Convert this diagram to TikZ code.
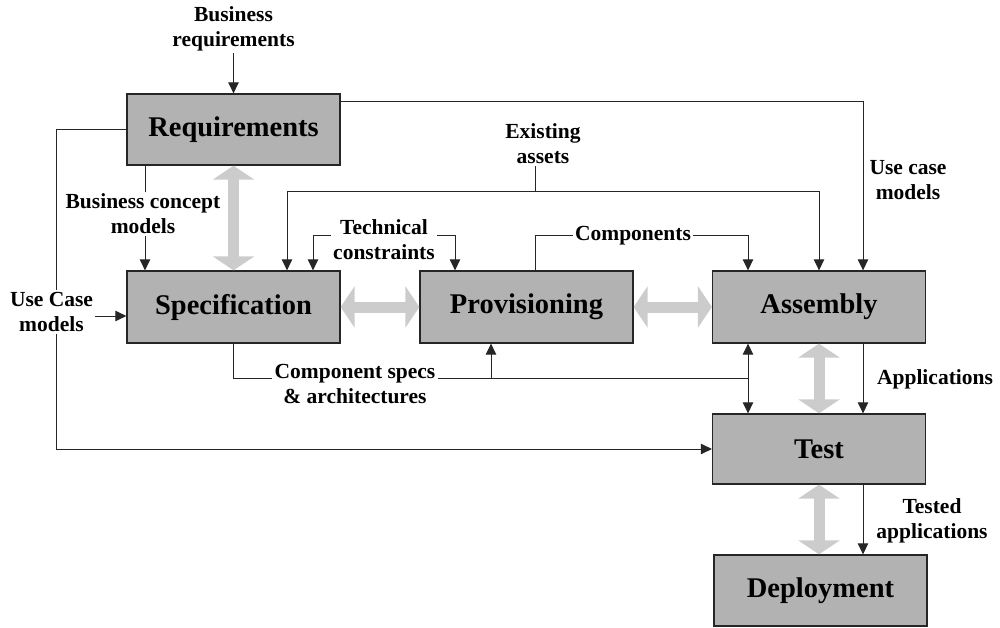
\documentclass[tikz,border=0pt]{standalone}
\usepackage{fontspec}
\setmainfont{Liberation Serif}
\usetikzlibrary{arrows.meta}
\begin{document}
\begin{tikzpicture}[x=1pt,y=-1pt,
 box/.style={draw=black!85,line width=1.3pt,fill=black!30,minimum width=213pt,minimum height=71pt,inner sep=0pt,font=\bfseries\fontsize{28.5}{33}\selectfont},
 lbl/.style={font=\bfseries\fontsize{21.5}{25}\selectfont,align=center,inner sep=2pt},
 line/.style={draw=black!85,line width=1pt},
 conn/.style={line,-{Triangle[length=11pt,width=10.5pt]}},
 gray arrow/.style={draw=black!20,line width=11pt,{Triangle[width=41pt,length=14pt]}-{Triangle[width=41pt,length=14pt]}}]
\useasboundingbox (0,0) rectangle (1000,628);
% boxes
\node[box] (req) at (233.5,129.5) {Requirements};
\node[box,minimum height=72pt] (spec) at (233.5,307) {Specification};
\node[box,minimum height=72pt] (prov) at (526.5,307) {Provisioning};
\node[box,minimum height=72pt] (asm) at (819,307) {Assembly};
\node[box,minimum height=70pt] (test) at (819,449) {Test};
\node[box] (dep) at (820.5,590.5) {Deployment};
% labels
\node[lbl] (breq) at (233.5,29) {Business\\requirements};
\node[lbl] (ucase) at (908,180) {Use case\\models};
\node[lbl] (ucm) at (51.5,312) {Use Case\\models};
\node[lbl] (bcm) at (143,214) {Business concept\\models};
\node[lbl] (ea) at (543,144) {Existing\\assets};
\node[lbl] (tc) at (384,240) {Technical\\constraints};
\node[lbl] (comp) at (633,236) {Components};
\node[lbl] (cs) at (355,384) {Component specs\\\& architectures};
\node[lbl] (app) at (935,379) {Applications};
\node[lbl] (tapp) at (932,521) {Tested\\applications};
% junction coordinates
\coordinate (eaj) at (535,192);
\coordinate (csj) at (748,378);
\coordinate (cp) at (491,378);
% gray double arrows
\draw[gray arrow] (req.south) -- (spec.north);
\draw[gray arrow] (spec.east) -- (prov.west);
\draw[gray arrow] (prov.east) -- (asm.west);
\draw[gray arrow] (asm.south) -- (test.north);
\draw[gray arrow] (test.south) -- (test.south |- dep.north);
% connectors
\draw[conn] (breq.south) -- (req.north);
\draw[conn] ([yshift=-8.5]req.north east) -| ([xshift=44]asm.north);
\draw[line] (req.west) -| ([xshift=4.5]ucm.north);
\draw[conn] ([xshift=4.5]ucm.south) |- (test.west);
\draw[conn] ([yshift=-4]ucm.east) -- ([yshift=-9]spec.west);
\draw[line] ([xshift=-88.5]req.south) -- ([xshift=2]bcm.north);
\draw[conn] ([xshift=2]bcm.south) -- ([xshift=-88.5]spec.north);
\draw[line] (ea.south -| eaj) -- (eaj);
\draw[conn] (eaj) -| ([xshift=53.5]spec.north);
\draw[conn] (eaj) -| (asm.north);
\draw[conn] ([yshift=4]tc.west) -| ([xshift=79.5]spec.north);
\draw[conn] ([yshift=4]tc.east) -| ([xshift=-71.5]prov.north);
\draw[line] ([xshift=8.5]prov.north) |- (comp.west);
\draw[conn] (comp.east) -| ([xshift=-71]asm.north);
\draw[line] (spec.south) |- ([yshift=6]cs.west);
\draw[line] ([yshift=6]cs.east) -- (csj);
\draw[conn] (cp) -- ([xshift=-35.5]prov.south);
\draw[conn] (csj) -- ([xshift=-71]asm.south);
\draw[conn] (csj) -- ([xshift=-71]test.north);
\draw[conn] ([xshift=44]asm.south) -- ([xshift=44]test.north);
\draw[conn] ([xshift=44]test.south) -- ([xshift=44]test.south |- dep.north);
\end{tikzpicture}
\end{document}
